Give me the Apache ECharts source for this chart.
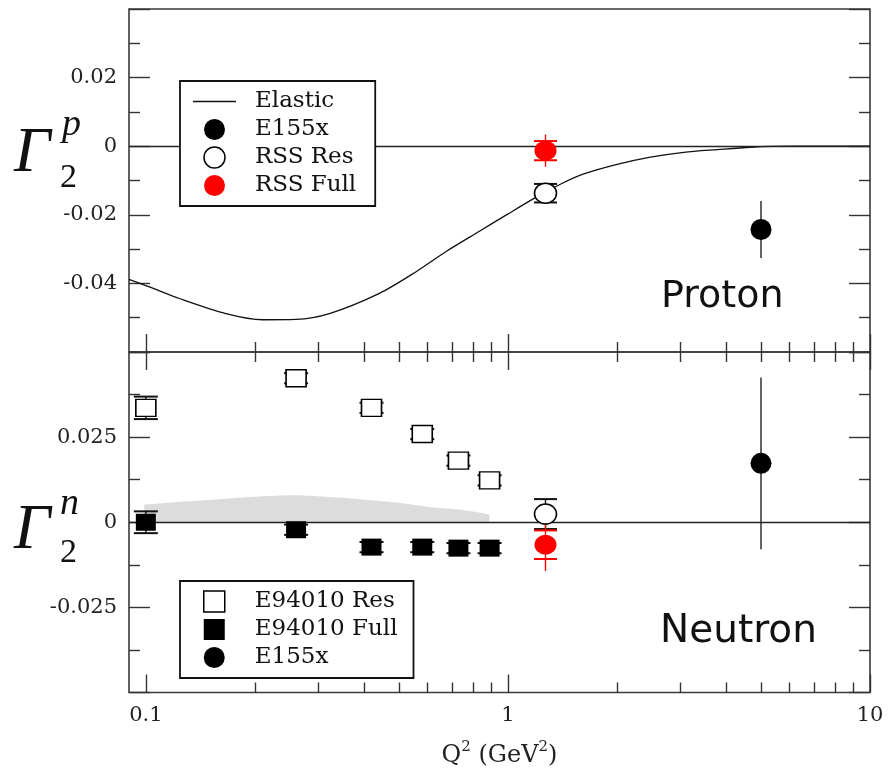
<!DOCTYPE html>
<html>
<head>
<meta charset="utf-8">
<title>Γ2 proton and neutron</title>
<script src="https://cdn.jsdelivr.net/npm/echarts@6/dist/echarts.min.js"></script>
<style>
  html, body { margin: 0; padding: 0; background: #fff; }
  #chart { width: 889px; height: 769px; }
</style>
</head>
<body>
<div id="chart"></div>
<script>
// ---- x axis (log Q^2) ticks ----
const xMajorTicks = [0.1, 1, 10];
const xMinorTicks = [0.2, 0.3, 0.4, 0.5, 0.6, 0.7, 0.8, 0.9, 2, 3, 4, 5, 6, 7, 8, 9];

// ---- proton panel ----
const elasticQ2 = [0.0898, 0.1023, 0.1238, 0.1665, 0.2102, 0.26, 0.3213, 0.4416, 0.5577, 0.6751, 0.8343, 0.9987,
                   1.178, 1.396, 1.62, 2.003, 2.476, 3.06, 3.784, 4.677, 6.0, 10];
const elasticG2p = [-0.0388, -0.0410, -0.0444, -0.0488, -0.0506, -0.0505, -0.0488, -0.0429, -0.0366, -0.0307, -0.0248, -0.0198,
                    -0.0153, -0.0111, -0.0081, -0.0053, -0.0032, -0.0018, -0.0010, -0.0003, 0, 0];

const e155xQ2 = [5.0];
const e155xG2p = [-0.0243];
const e155xG2pErr = [0.0083];

const rssQ2 = [1.27];
const rssResG2p = [-0.0137];
const rssResG2pErr = [0.0027];
const rssFullG2p = [-0.0013];
const rssFullG2pTot = [0.0047];
const rssFullG2pSys = [0.0028];

// ---- neutron panel ----
const bandQ2 = [0.099, 0.1185, 0.1377, 0.170, 0.2103, 0.260, 0.321, 0.397, 0.491, 0.607, 0.750, 0.889];
const bandUpper = [0.0052, 0.0058, 0.0063, 0.0070, 0.0076, 0.0079, 0.0074, 0.0067, 0.0058, 0.0045, 0.0036, 0.0023];

const e94010Q2 = [0.1, 0.26, 0.42, 0.58, 0.73, 0.89];
const e94010ResG2n = [0.0336, 0.0423, 0.0336, 0.0259, 0.0181, 0.0123];
const e94010ResErr = [0.0033, 0.0015, 0.0015, 0.0015, 0.0015, 0.0015];
const e94010FullG2n = [0.0, -0.0022, -0.0073, -0.0073, -0.0076, -0.0076];
const e94010FullErr = [0.0032, 0.0015, 0.0015, 0.0015, 0.0015, 0.0015];

const rssResG2n = [0.0024];
const rssResG2nErr = [0.0044];
const rssFullG2n = [-0.0066];
const rssFullG2nTot = [0.0077];
const rssFullG2nSys = [0.0042];

const e155xG2n = [0.0173];
const e155xG2nErr = [0.0252];

// ---- helpers ----
const pairs = (xs, ys) => xs.map((x, i) => [x, ys[i]]);
// [x, y, y-tot, y+tot, y-cap, y+cap]
const errItems = (xs, ys, tot, cap) =>
  xs.map((x, i) => {
    const c = cap ? cap[i] : tot[i];
    return [x, ys[i], ys[i] - tot[i], ys[i] + tot[i], ys[i] - c, ys[i] + c];
  });

function errorBars(color, capWidth) {
  return function (params, api) {
    const x = api.value(0);
    const lo = api.coord([x, api.value(2)]);
    const hi = api.coord([x, api.value(3)]);
    const children = [{
      type: 'line',
      shape: { x1: lo[0], y1: lo[1], x2: hi[0], y2: hi[1] },
      style: { stroke: color, lineWidth: 1.4 }
    }];
    if (capWidth > 0) {
      [api.value(4), api.value(5)].forEach(function (c) {
        const p = api.coord([x, c]);
        children.push({
          type: 'line',
          shape: { x1: p[0] - capWidth / 2, y1: p[1], x2: p[0] + capWidth / 2, y2: p[1] },
          style: { stroke: color, lineWidth: 2 }
        });
      });
    }
    return { type: 'group', children: children };
  };
}

const SERIF = 'DejaVu Serif';
const TICK = '#333';
const X_MIN = 0.08985, X_MAX = 10;

function xAxisDef(grid, pos, values, len, withLabels) {
  return {
    type: 'log', logBase: 10, gridIndex: grid, position: pos, min: X_MIN, max: X_MAX,
    axisLine: { show: false, onZero: false },
    splitLine: { show: false },
    axisTick: { show: true, inside: true, length: len, customValues: values, lineStyle: { color: TICK, width: 1.4 } },
    axisLabel: withLabels
      ? { show: true, customValues: xMajorTicks, margin: 13, fontFamily: SERIF, fontSize: 21, color: '#222',
          formatter: v => String(+v.toPrecision(3)) }
      : { show: false },
    name: withLabels ? 'Q{sup|2} (GeV{sup|2})' : '',
    nameLocation: 'middle',
    nameGap: 47,
    nameTextStyle: {
      fontFamily: SERIF, fontSize: 24, color: '#222',
      rich: { sup: { fontFamily: SERIF, fontSize: 15, color: '#222', padding: [0, 0, 18, 0] } }
    }
  };
}

function yAxisDef(grid, pos, min, max, step, withLabels) {
  return {
    type: 'value', gridIndex: grid, position: pos, min: min, max: max, interval: step,
    axisLine: { show: false, onZero: false },
    splitLine: { show: false },
    axisTick: { show: true, inside: true, length: 21, lineStyle: { color: TICK, width: 1.4 } },
    minorTick: { show: true, splitNumber: 2, length: 11, lineStyle: { color: TICK, width: 1.4 } },
    axisLabel: withLabels
      ? { show: true, margin: 12, showMinLabel: false, showMaxLabel: false, fontFamily: SERIF, fontSize: 21, color: '#222' }
      : { show: false }
  };
}

const chart = echarts.init(document.getElementById('chart'), null, { renderer: 'canvas' });

const legendBox = {
  orient: 'vertical', left: 180, itemWidth: 43, itemHeight: 21, itemGap: 5,
  backgroundColor: '#fff', borderColor: '#111', borderWidth: 1.8,
  selectedMode: false, z: 20
};
const legendText = { fontFamily: SERIF, fontSize: 23, lineHeight: 21, color: '#111', padding: [0, 0, 0, 14] };
const SQUARE = 'path://M0,0h10v10h-10z';
const DASH = 'path://M0,0h43v1.3h-43z';

chart.setOption({
  animation: false,
  backgroundColor: '#fff',
  grid: [
    { left: 129, top: 9, width: 741, height: 343, show: true, borderColor: '#3a3a3a', borderWidth: 1.6, backgroundColor: 'transparent' },
    { left: 129, top: 352, width: 741, height: 341, show: true, borderColor: '#3a3a3a', borderWidth: 1.6, backgroundColor: 'transparent' }
  ],
  xAxis: [
    xAxisDef(0, 'bottom', xMajorTicks, 18, false),
    xAxisDef(0, 'bottom', xMinorTicks, 10, false),
    xAxisDef(1, 'bottom', xMajorTicks, 18, true),
    xAxisDef(1, 'bottom', xMinorTicks, 10, false),
    xAxisDef(1, 'top', xMajorTicks, 18, false),
    xAxisDef(1, 'top', xMinorTicks, 10, false)
  ],
  yAxis: [
    yAxisDef(0, 'left', -0.06, 0.04, 0.02, true),
    yAxisDef(0, 'right', -0.06, 0.04, 0.02, false),
    yAxisDef(1, 'left', -0.05, 0.05, 0.025, true),
    yAxisDef(1, 'right', -0.05, 0.05, 0.025, false)
  ],
  legend: [
    Object.assign({}, legendBox, {
      top: 81,
      padding: [9, 19, 9, 13],
      textStyle: legendText,
      data: [
        { name: 'Elastic', icon: DASH, itemStyle: { color: '#111', opacity: 1, borderWidth: 0 } },
        { name: 'E155x', icon: 'circle', itemStyle: { color: '#000', opacity: 1, borderWidth: 0 } },
        { name: 'RSS Res', icon: 'circle', itemStyle: { color: '#fff', opacity: 1, borderColor: '#000', borderWidth: 1.5 } },
        { name: 'RSS Full', icon: 'circle', itemStyle: { color: '#ff0000', opacity: 1, borderWidth: 0 } }
      ]
    }),
    Object.assign({}, legendBox, {
      top: 581,
      padding: [9, 16, 9, 23],
      textStyle: legendText,
      data: [
        { name: 'E94010 Res', icon: SQUARE, itemStyle: { color: '#fff', opacity: 1, borderColor: '#000', borderWidth: 1.5 } },
        { name: 'E94010 Full', icon: SQUARE, itemStyle: { color: '#000', opacity: 1, borderWidth: 0 } },
        { name: 'E155x', icon: 'circle', itemStyle: { color: '#000', opacity: 1, borderWidth: 0 } }
      ]
    })
  ],
  graphic: [
    { type: 'text', x: 14, y: 154, z: 30, style: { text: 'Γ', font: 'italic 64px "Liberation Serif"', fill: '#111', verticalAlign: 'middle' } },
    { type: 'text', x: 62, y: 125, z: 30, style: { text: 'p', font: 'italic 38px "Liberation Serif"', fill: '#111', verticalAlign: 'middle' } },
    { type: 'text', x: 60, y: 178, z: 30, style: { text: '2', font: '34px "Liberation Serif"', fill: '#111', verticalAlign: 'middle' } },
    { type: 'text', x: 14, y: 531, z: 30, style: { text: 'Γ', font: 'italic 64px "Liberation Serif"', fill: '#111', verticalAlign: 'middle' } },
    { type: 'text', x: 60, y: 504, z: 30, style: { text: 'n', font: 'italic 38px "Liberation Serif"', fill: '#111', verticalAlign: 'middle' } },
    { type: 'text', x: 60, y: 553, z: 30, style: { text: '2', font: '34px "Liberation Serif"', fill: '#111', verticalAlign: 'middle' } },
    { type: 'text', x: 661, y: 297, z: 30, style: { text: 'Proton', font: '38px "DejaVu Sans"', fill: '#111', verticalAlign: 'middle' } },
    { type: 'text', x: 660, y: 632, z: 30, style: { text: 'Neutron', font: '39px "DejaVu Sans"', fill: '#111', verticalAlign: 'middle' } }
  ],
  series: [
    // ---------- proton ----------
    {
      name: 'Elastic', type: 'line', xAxisIndex: 0, yAxisIndex: 0, z: 3,
      data: pairs(elasticQ2, elasticG2p), showSymbol: false, symbol: 'none', smooth: 0.3,
      lineStyle: { color: '#111', width: 1.3 }, itemStyle: { color: '#111' },
      markLine: {
        silent: true, symbol: 'none', label: { show: false },
        lineStyle: { color: '#222', width: 1.3, type: 'solid' },
        data: [{ yAxis: 0 }]
      }
    },
    {
      name: 'E155x p err', type: 'custom', xAxisIndex: 0, yAxisIndex: 0, z: 4,
      renderItem: errorBars('#222', 0), encode: { x: 0, y: 1 },
      data: errItems(e155xQ2, e155xG2p, e155xG2pErr)
    },
    {
      name: 'RSS Res p err', type: 'custom', xAxisIndex: 0, yAxisIndex: 0, z: 4,
      renderItem: errorBars('#111', 23), encode: { x: 0, y: 1 },
      data: errItems(rssQ2, rssResG2p, rssResG2pErr)
    },
    {
      name: 'RSS Full p err', type: 'custom', xAxisIndex: 0, yAxisIndex: 0, z: 4,
      renderItem: errorBars('#ff0000', 23), encode: { x: 0, y: 1 },
      data: errItems(rssQ2, rssFullG2p, rssFullG2pTot, rssFullG2pSys)
    },
    {
      name: 'E155x', type: 'scatter', xAxisIndex: 0, yAxisIndex: 0, z: 5,
      symbol: 'circle', symbolSize: 21, itemStyle: { color: '#000', opacity: 1 },
      data: pairs(e155xQ2, e155xG2p)
    },
    {
      name: 'RSS Res', type: 'scatter', xAxisIndex: 0, yAxisIndex: 0, z: 5,
      symbol: 'circle', symbolSize: [22, 20], itemStyle: { color: '#fff', borderColor: '#000', borderWidth: 1.5, opacity: 1 },
      data: pairs(rssQ2, rssResG2p)
    },
    {
      name: 'RSS Full', type: 'scatter', xAxisIndex: 0, yAxisIndex: 0, z: 5,
      symbol: 'circle', symbolSize: [22, 20], itemStyle: { color: '#ff0000', opacity: 1 },
      data: pairs(rssQ2, rssFullG2p)
    },

    // ---------- neutron ----------
    {
      name: 'band', type: 'line', xAxisIndex: 2, yAxisIndex: 2, z: 1,
      data: pairs(bandQ2, bandUpper), showSymbol: false, symbol: 'none', smooth: 0.3,
      lineStyle: { width: 0, color: '#dcdcdc' },
      areaStyle: { color: '#dcdcdc', opacity: 1, origin: 0 },
      markLine: {
        silent: true, symbol: 'none', label: { show: false },
        lineStyle: { color: '#222', width: 1.3, type: 'solid' },
        data: [{ yAxis: 0 }]
      }
    },
    {
      name: 'E94010 Res err', type: 'custom', xAxisIndex: 2, yAxisIndex: 2, z: 4,
      renderItem: errorBars('#111', 24), encode: { x: 0, y: 1 },
      data: errItems(e94010Q2, e94010ResG2n, e94010ResErr)
    },
    {
      name: 'E94010 Full err', type: 'custom', xAxisIndex: 2, yAxisIndex: 2, z: 4,
      renderItem: errorBars('#111', 24), encode: { x: 0, y: 1 },
      data: errItems(e94010Q2, e94010FullG2n, e94010FullErr)
    },
    {
      name: 'RSS Res n err', type: 'custom', xAxisIndex: 2, yAxisIndex: 2, z: 4,
      renderItem: errorBars('#111', 23), encode: { x: 0, y: 1 },
      data: errItems(rssQ2, rssResG2n, rssResG2nErr)
    },
    {
      name: 'RSS Full n err', type: 'custom', xAxisIndex: 2, yAxisIndex: 2, z: 4,
      renderItem: errorBars('#ff0000', 23), encode: { x: 0, y: 1 },
      data: errItems(rssQ2, rssFullG2n, rssFullG2nTot, rssFullG2nSys)
    },
    {
      name: 'E155x n err', type: 'custom', xAxisIndex: 2, yAxisIndex: 2, z: 4,
      renderItem: errorBars('#222', 0), encode: { x: 0, y: 1 },
      data: errItems(e155xQ2, e155xG2n, e155xG2nErr)
    },
    {
      name: 'E94010 Res', type: 'scatter', xAxisIndex: 2, yAxisIndex: 2, z: 5,
      symbol: 'rect', symbolSize: [20, 17], itemStyle: { color: '#fff', borderColor: '#000', borderWidth: 1.5, opacity: 1 },
      data: pairs(e94010Q2, e94010ResG2n)
    },
    {
      name: 'E94010 Full', type: 'scatter', xAxisIndex: 2, yAxisIndex: 2, z: 5,
      symbol: 'rect', symbolSize: [20, 17], itemStyle: { color: '#000', opacity: 1 },
      data: pairs(e94010Q2, e94010FullG2n)
    },
    {
      name: 'RSS Res', type: 'scatter', xAxisIndex: 2, yAxisIndex: 2, z: 5,
      symbol: 'circle', symbolSize: [22, 20], itemStyle: { color: '#fff', borderColor: '#000', borderWidth: 1.5, opacity: 1 },
      data: pairs(rssQ2, rssResG2n)
    },
    {
      name: 'RSS Full', type: 'scatter', xAxisIndex: 2, yAxisIndex: 2, z: 5,
      symbol: 'circle', symbolSize: [22, 20], itemStyle: { color: '#ff0000', opacity: 1 },
      data: pairs(rssQ2, rssFullG2n)
    },
    {
      name: 'E155x', type: 'scatter', xAxisIndex: 2, yAxisIndex: 2, z: 5,
      symbol: 'circle', symbolSize: 21, itemStyle: { color: '#000', opacity: 1 },
      data: pairs(e155xQ2, e155xG2n)
    }
  ]
});
</script>
</body>
</html>
